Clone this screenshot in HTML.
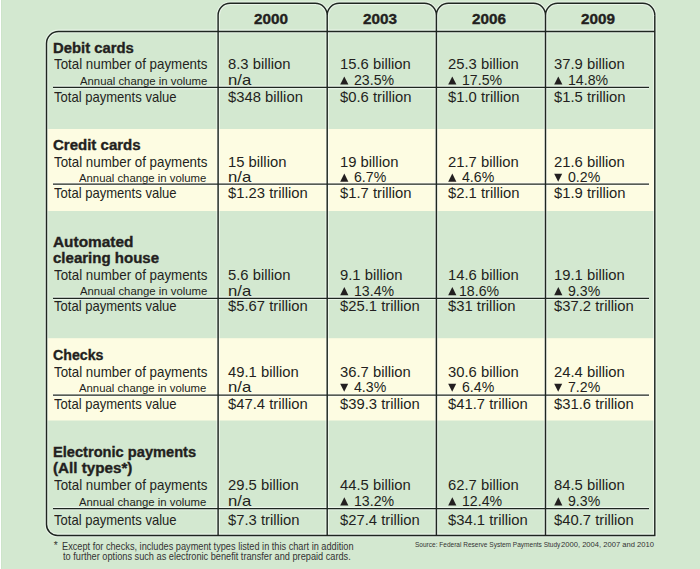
<!DOCTYPE html>
<html><head><meta charset="utf-8"><style>
html,body{margin:0;padding:0;}
body{width:700px;height:569px;overflow:hidden;background:#d3e8d0;position:relative;font-family:"Liberation Sans",sans-serif;color:#231f20;}
.g{position:absolute;left:0;top:0;}
.t{position:absolute;white-space:pre;line-height:1;transform-origin:0 0;}
.b{-webkit-text-stroke:0.35px #231f20;}
</style></head><body>
<svg class="g" width="700" height="569" viewBox="0 0 700 569">
<rect x="47.5" y="129" width="606.5" height="82" fill="#fdfce2"/>
<rect x="47.5" y="338.2" width="606.5" height="82.3" fill="#fdfce2"/>
<rect x="0" y="0" width="1" height="569" fill="#ffffff"/>
<rect x="1" y="0" width="1" height="569" fill="#cde4ca"/>
<g fill="none" stroke="rgba(255,255,255,0.5)" stroke-width="3.6">
<path d="M 218 31.4 L 58.5 31.4 A 12 12 0 0 0 46.5 43.4 L 46.5 524.4 A 11 11 0 0 0 57.5 535.4 L 654.8 535.4 L 654.8 15.3"/>
<path d="M 218.1 535.4 L 218.1 15.3 A 12 12 0 0 1 230.1 3.3 L 315.2 3.3 A 12 12 0 0 1 327.2 15.3 M 327.2 535.4 L 327.2 15.3 A 12 12 0 0 1 339.2 3.3 L 424.4 3.3 A 12 12 0 0 1 436.4 15.3 M 436.4 535.4 L 436.4 15.3 A 12 12 0 0 1 448.4 3.3 L 533.5 3.3 A 12 12 0 0 1 545.5 15.3 M 545.5 535.4 L 545.5 15.3 A 12 12 0 0 1 557.5 3.3 L 642.8 3.3 A 12 12 0 0 1 654.8 15.3 "/>
<path d="M 218 31.4 L 654.8 31.4"/>
<line x1="53" y1="87.4" x2="649" y2="87.4" /><line x1="53" y1="184.1" x2="649" y2="184.1" /><line x1="53" y1="298.3" x2="649" y2="298.3" /><line x1="53" y1="395.2" x2="649" y2="395.2" /><line x1="53" y1="508.5" x2="649" y2="508.5" />
</g>
<g fill="none" stroke="#1e2620" stroke-width="1.45">
<path d="M 218 31.4 L 58.5 31.4 A 12 12 0 0 0 46.5 43.4 L 46.5 524.4 A 11 11 0 0 0 57.5 535.4 L 654.8 535.4 L 654.8 15.3"/>
<path d="M 218.1 535.4 L 218.1 15.3 A 12 12 0 0 1 230.1 3.3 L 315.2 3.3 A 12 12 0 0 1 327.2 15.3 M 327.2 535.4 L 327.2 15.3 A 12 12 0 0 1 339.2 3.3 L 424.4 3.3 A 12 12 0 0 1 436.4 15.3 M 436.4 535.4 L 436.4 15.3 A 12 12 0 0 1 448.4 3.3 L 533.5 3.3 A 12 12 0 0 1 545.5 15.3 M 545.5 535.4 L 545.5 15.3 A 12 12 0 0 1 557.5 3.3 L 642.8 3.3 A 12 12 0 0 1 654.8 15.3 "/>
<path d="M 218 31.4 L 654.8 31.4"/>
</g>
<g stroke="#1e2620" stroke-width="1.25">
<line x1="53" y1="87.4" x2="649" y2="87.4" /><line x1="53" y1="184.1" x2="649" y2="184.1" /><line x1="53" y1="298.3" x2="649" y2="298.3" /><line x1="53" y1="395.2" x2="649" y2="395.2" /><line x1="53" y1="508.5" x2="649" y2="508.5" />
</g>
<g fill="#231f20">
<polygon class="tri" points="340.2,84.6 348.4,84.6 344.3,76.39999999999999" /><polygon class="tri" points="448.2,84.6 456.4,84.6 452.3,76.39999999999999" /><polygon class="tri" points="554.2,84.6 562.4000000000001,84.6 558.3000000000001,76.39999999999999" /><polygon class="tri" points="340.2,181.8 348.4,181.8 344.3,173.60000000000002" /><polygon class="tri" points="448.2,181.8 456.4,181.8 452.3,173.60000000000002" /><polygon class="tri" points="554.2,173.8 562.2,173.8 558.2,181.8" /><polygon class="tri" points="340.2,295.3 348.4,295.3 344.3,287.1" /><polygon class="tri" points="448.2,295.3 456.4,295.3 452.3,287.1" /><polygon class="tri" points="554.2,295.3 562.4000000000001,295.3 558.3000000000001,287.1" /><polygon class="tri" points="340.2,383.8 348.2,383.8 344.2,391.8" /><polygon class="tri" points="448.2,383.8 456.2,383.8 452.2,391.8" /><polygon class="tri" points="554.2,383.8 562.2,383.8 558.2,391.8" /><polygon class="tri" points="340.2,505.4 348.4,505.4 344.3,497.2" /><polygon class="tri" points="448.2,505.4 456.4,505.4 452.3,497.2" /><polygon class="tri" points="554.2,505.4 562.4000000000001,505.4 558.3000000000001,497.2" />
</g>
</svg>
<div class="t b" style="left:53.00px;top:40.92px;font-size:14.5px;font-weight:700;transform:scaleX(1.023);">Debit cards</div><div class="t" style="left:54.00px;top:57.27px;font-size:14.8px;transform:scaleX(0.901);">Total number of payments</div><div class="t" style="left:80.00px;top:75.79px;font-size:11px;transform:scaleX(1.03);">Annual change in volume</div><div class="t" style="left:54.00px;top:89.57px;font-size:14.8px;transform:scaleX(0.882);">Total payments value</div><div class="t" style="left:228.00px;top:57.27px;font-size:14.8px;">8.3 billion</div><div class="t" style="left:228.00px;top:73.27px;font-size:14.8px;transform:scaleX(1.13);">n/a</div><div class="t" style="left:228.00px;top:89.57px;font-size:14.8px;">$348 billion</div><div class="t" style="left:340.00px;top:57.27px;font-size:14.8px;">15.6 billion</div><div class="t" style="left:354.00px;top:73.27px;font-size:14.8px;transform:scaleX(0.955);">23.5%</div><div class="t" style="left:340.00px;top:89.57px;font-size:14.8px;">$0.6 trillion</div><div class="t" style="left:448.00px;top:57.27px;font-size:14.8px;">25.3 billion</div><div class="t" style="left:462.00px;top:73.27px;font-size:14.8px;transform:scaleX(0.955);">17.5%</div><div class="t" style="left:448.00px;top:89.57px;font-size:14.8px;">$1.0 trillion</div><div class="t" style="left:554.00px;top:57.27px;font-size:14.8px;">37.9 billion</div><div class="t" style="left:568.00px;top:73.27px;font-size:14.8px;transform:scaleX(0.955);">14.8%</div><div class="t" style="left:554.00px;top:89.57px;font-size:14.8px;">$1.5 trillion</div><div class="t b" style="left:53.00px;top:138.22px;font-size:14.5px;font-weight:700;transform:scaleX(1.035);">Credit cards</div><div class="t" style="left:54.00px;top:154.77px;font-size:14.8px;transform:scaleX(0.901);">Total number of payments</div><div class="t" style="left:78.70px;top:172.99px;font-size:11px;transform:scaleX(1.03);">Annual change in volume</div><div class="t" style="left:54.00px;top:186.47px;font-size:14.8px;transform:scaleX(0.882);">Total payments value</div><div class="t" style="left:228.00px;top:154.77px;font-size:14.8px;">15 billion</div><div class="t" style="left:228.00px;top:170.47px;font-size:14.8px;transform:scaleX(1.13);">n/a</div><div class="t" style="left:228.00px;top:186.47px;font-size:14.8px;">$1.23 trillion</div><div class="t" style="left:340.00px;top:154.77px;font-size:14.8px;">19 billion</div><div class="t" style="left:354.00px;top:170.47px;font-size:14.8px;transform:scaleX(0.955);">6.7%</div><div class="t" style="left:340.00px;top:186.47px;font-size:14.8px;">$1.7 trillion</div><div class="t" style="left:448.00px;top:154.77px;font-size:14.8px;">21.7 billion</div><div class="t" style="left:462.00px;top:170.47px;font-size:14.8px;transform:scaleX(0.955);">4.6%</div><div class="t" style="left:448.00px;top:186.47px;font-size:14.8px;">$2.1 trillion</div><div class="t" style="left:554.00px;top:154.77px;font-size:14.8px;">21.6 billion</div><div class="t" style="left:568.00px;top:170.47px;font-size:14.8px;transform:scaleX(0.955);">0.2%</div><div class="t" style="left:554.00px;top:186.47px;font-size:14.8px;">$1.9 trillion</div><div class="t b" style="left:53.00px;top:234.82px;font-size:14.5px;font-weight:700;transform:scaleX(1.062);">Automated</div><div class="t b" style="left:53.00px;top:250.92px;font-size:14.5px;font-weight:700;transform:scaleX(1.036);">clearing house</div><div class="t" style="left:54.00px;top:267.67px;font-size:14.8px;transform:scaleX(0.901);">Total number of payments</div><div class="t" style="left:79.70px;top:286.49px;font-size:11px;transform:scaleX(1.03);">Annual change in volume</div><div class="t" style="left:54.00px;top:298.67px;font-size:14.8px;transform:scaleX(0.882);">Total payments value</div><div class="t" style="left:228.00px;top:267.67px;font-size:14.8px;">5.6 billion</div><div class="t" style="left:228.00px;top:283.97px;font-size:14.8px;transform:scaleX(1.13);">n/a</div><div class="t" style="left:228.00px;top:298.67px;font-size:14.8px;">$5.67 trillion</div><div class="t" style="left:340.00px;top:267.67px;font-size:14.8px;">9.1 billion</div><div class="t" style="left:354.00px;top:283.97px;font-size:14.8px;transform:scaleX(0.955);">13.4%</div><div class="t" style="left:340.00px;top:298.67px;font-size:14.8px;">$25.1 trillion</div><div class="t" style="left:448.00px;top:267.67px;font-size:14.8px;">14.6 billion</div><div class="t" style="left:458.50px;top:283.97px;font-size:14.8px;transform:scaleX(0.955);">18.6%</div><div class="t" style="left:448.00px;top:298.67px;font-size:14.8px;">$31 trillion</div><div class="t" style="left:554.00px;top:267.67px;font-size:14.8px;">19.1 billion</div><div class="t" style="left:568.00px;top:283.97px;font-size:14.8px;transform:scaleX(0.955);">9.3%</div><div class="t" style="left:554.00px;top:298.67px;font-size:14.8px;">$37.2 trillion</div><div class="t b" style="left:53.00px;top:347.82px;font-size:14.5px;font-weight:700;transform:scaleX(0.977);">Checks</div><div class="t" style="left:54.00px;top:364.97px;font-size:14.8px;transform:scaleX(0.901);">Total number of payments</div><div class="t" style="left:78.70px;top:382.99px;font-size:11px;transform:scaleX(1.03);">Annual change in volume</div><div class="t" style="left:54.00px;top:396.57px;font-size:14.8px;transform:scaleX(0.882);">Total payments value</div><div class="t" style="left:228.00px;top:364.97px;font-size:14.8px;">49.1 billion</div><div class="t" style="left:228.00px;top:380.47px;font-size:14.8px;transform:scaleX(1.13);">n/a</div><div class="t" style="left:228.00px;top:396.57px;font-size:14.8px;">$47.4 trillion</div><div class="t" style="left:340.00px;top:364.97px;font-size:14.8px;">36.7 billion</div><div class="t" style="left:354.00px;top:380.47px;font-size:14.8px;transform:scaleX(0.955);">4.3%</div><div class="t" style="left:340.00px;top:396.57px;font-size:14.8px;">$39.3 trillion</div><div class="t" style="left:448.00px;top:364.97px;font-size:14.8px;">30.6 billion</div><div class="t" style="left:462.00px;top:380.47px;font-size:14.8px;transform:scaleX(0.955);">6.4%</div><div class="t" style="left:448.00px;top:396.57px;font-size:14.8px;">$41.7 trillion</div><div class="t" style="left:554.00px;top:364.97px;font-size:14.8px;">24.4 billion</div><div class="t" style="left:568.00px;top:380.47px;font-size:14.8px;transform:scaleX(0.955);">7.2%</div><div class="t" style="left:554.00px;top:396.57px;font-size:14.8px;">$31.6 trillion</div><div class="t b" style="left:53.00px;top:445.12px;font-size:14.5px;font-weight:700;transform:scaleX(1.009);">Electronic payments</div><div class="t b" style="left:53.00px;top:461.12px;font-size:14.5px;font-weight:700;transform:scaleX(1.048);">(All types*)</div><div class="t" style="left:54.00px;top:477.97px;font-size:14.8px;transform:scaleX(0.901);">Total number of payments</div><div class="t" style="left:78.70px;top:496.59px;font-size:11px;transform:scaleX(1.03);">Annual change in volume</div><div class="t" style="left:54.00px;top:513.07px;font-size:14.8px;transform:scaleX(0.882);">Total payments value</div><div class="t" style="left:228.00px;top:477.97px;font-size:14.8px;">29.5 billion</div><div class="t" style="left:228.00px;top:494.07px;font-size:14.8px;transform:scaleX(1.13);">n/a</div><div class="t" style="left:228.00px;top:513.07px;font-size:14.8px;">$7.3 trillion</div><div class="t" style="left:340.00px;top:477.97px;font-size:14.8px;">44.5 billion</div><div class="t" style="left:354.00px;top:494.07px;font-size:14.8px;transform:scaleX(0.955);">13.2%</div><div class="t" style="left:340.00px;top:513.07px;font-size:14.8px;">$27.4 trillion</div><div class="t" style="left:448.00px;top:477.97px;font-size:14.8px;">62.7 billion</div><div class="t" style="left:462.00px;top:494.07px;font-size:14.8px;transform:scaleX(0.955);">12.4%</div><div class="t" style="left:448.00px;top:513.07px;font-size:14.8px;">$34.1 trillion</div><div class="t" style="left:554.00px;top:477.97px;font-size:14.8px;">84.5 billion</div><div class="t" style="left:568.00px;top:494.07px;font-size:14.8px;transform:scaleX(0.955);">9.3%</div><div class="t" style="left:554.00px;top:513.07px;font-size:14.8px;">$40.7 trillion</div><div class="t b" style="left:253.70px;top:12.25px;font-size:14px;font-weight:700;transform:scaleX(1.09);">2000</div><div class="t b" style="left:362.80px;top:12.25px;font-size:14px;font-weight:700;transform:scaleX(1.09);">2003</div><div class="t b" style="left:472.00px;top:12.25px;font-size:14px;font-weight:700;transform:scaleX(1.09);">2006</div><div class="t b" style="left:581.10px;top:12.25px;font-size:14px;font-weight:700;transform:scaleX(1.09);">2009</div><div class="t" style="left:53.80px;top:540.78px;font-size:10.3px;color:#333;">*</div><div class="t" style="left:61.80px;top:541.88px;font-size:10.3px;transform:scaleX(0.892);color:#333;">Except for checks, includes payment types listed in this chart in addition</div><div class="t" style="left:62.80px;top:552.48px;font-size:10.3px;transform:scaleX(0.893);color:#333;">to further options such as electronic benefit transfer and prepaid cards.</div><div class="t" style="left:414.60px;top:541.33px;font-size:8px;transform:scaleX(0.815);color:#333;">Source: Federal Reserve System Payments Study</div><div class="t" style="left:561.00px;top:541.33px;font-size:8px;transform:scaleX(0.95);color:#333;">2000, 2004, 2007 and 2010</div>
</body></html>
